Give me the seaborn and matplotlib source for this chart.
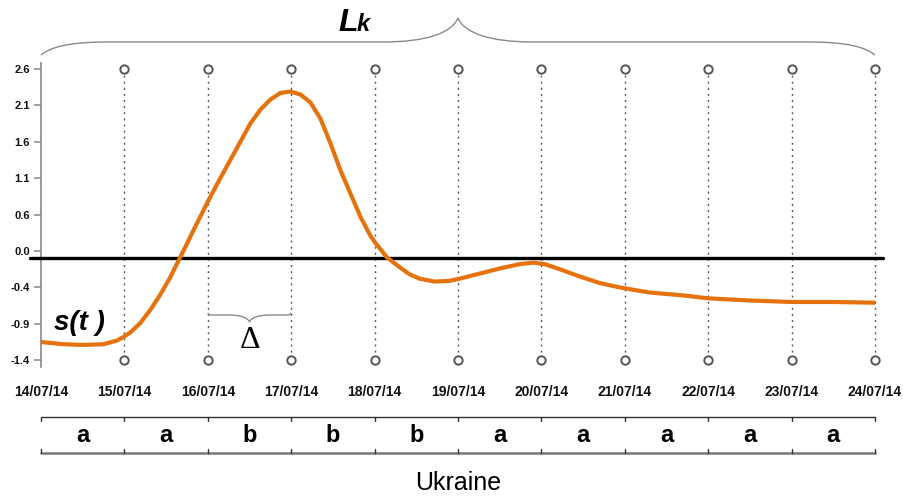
import numpy as np
import pandas as pd
import matplotlib
matplotlib.use("Agg")
import matplotlib.pyplot as plt
import seaborn as sns
from matplotlib.path import Path
from matplotlib.patches import PathPatch
from matplotlib import transforms

# values
dates = ['14/07/14', '15/07/14', '16/07/14', '17/07/14', '18/07/14', '19/07/14',
         '20/07/14', '21/07/14', '22/07/14', '23/07/14', '24/07/14']
days = [0.00, 0.27, 0.51, 0.75, 0.91, 0.99, 1.07, 1.19, 1.31, 1.43, 1.55, 1.65, 1.75,
        1.83, 2.01, 2.15, 2.27, 2.39, 2.51, 2.63, 2.75, 2.87, 2.99, 3.11, 3.23, 3.35,
        3.47, 3.59, 3.71, 3.83, 3.95, 4.01, 4.15, 4.31, 4.42, 4.54, 4.72, 4.90, 5.02,
        5.26, 5.50, 5.74, 5.90, 6.04, 6.22, 6.46, 6.70, 6.94, 7.14, 7.30, 7.70, 8.00,
        8.50, 9.00, 9.50, 10.00]
s_values = [-1.15, -1.18, -1.19, -1.18, -1.13, -1.08, -1.02, -0.89, -0.71, -0.50,
            -0.26, -0.03, 0.20, 0.39, 0.80, 1.10, 1.35, 1.60, 1.85, 2.04, 2.18, 2.27,
            2.29, 2.25, 2.14, 1.92, 1.58, 1.21, 0.89, 0.57, 0.31, 0.21, 0.01, -0.13,
            -0.22, -0.28, -0.32, -0.31, -0.28, -0.21, -0.14, -0.08, -0.06, -0.08, -0.15,
            -0.25, -0.34, -0.40, -0.44, -0.47, -0.51, -0.55, -0.58, -0.60, -0.60, -0.61]
y_ticks = [2.6, 2.1, 1.6, 1.1, 0.6, 0.1, -0.4, -0.9, -1.4]
y_tick_labels = ['2.6', '2.1', '1.6', '1.1', '0.6', '0.0', '-0.4', '-0.9', '-1.4']
classes = ['a', 'a', 'b', 'b', 'b', 'a', 'a', 'a', 'a', 'a']
country = 'Ukraine'

orange = '#E6720E'
gray = '#555555'

sns.set_theme(style='white')
plt.rcParams['font.family'] = ['Liberation Sans', 'DejaVu Sans']
plt.rcParams['text.color'] = 'black'

W, H = 904, 497
fig = plt.figure(figsize=(W / 100, H / 100), dpi=100)
ax = fig.add_axes([41 / W, 1 - 367 / H, 834 / W, 304 / H])

# dotted guides + hollow circles at each day
cols = list(range(1, len(dates)))
for d in cols:
    ax.plot([d, d], [y_ticks[0], y_ticks[-1]], color=gray, lw=1.0,
            linestyle=(0, (1.4, 3.0)), zorder=1, clip_on=False)
circ = pd.DataFrame({'day': cols * 2,
                     'y': [y_ticks[0]] * len(cols) + [y_ticks[-1]] * len(cols)})
sns.scatterplot(data=circ, x='day', y='y', ax=ax, s=36, facecolor='white',
                edgecolor=gray, linewidth=1.4, zorder=6, clip_on=False)

# zero line
ax.plot([-0.13, 10.1], [0, 0], color='black', lw=2.4, zorder=3, clip_on=False)

df = pd.DataFrame({'day': days, 's': s_values})
sns.lineplot(data=df, x='day', y='s', ax=ax, color=orange, linewidth=3.0, zorder=4)

ax.set_xlim(0, 10)
ax.set_ylim(-1.493, 2.682)
ax.set_xlabel('')
ax.set_ylabel('')
for sp in ['top', 'right', 'bottom']:
    ax.spines[sp].set_visible(False)
ax.spines['left'].set_color('#888888')
ax.spines['left'].set_linewidth(1.2)
ax.set_xticks(range(len(dates)), dates, fontsize=10, fontweight='bold')
ax.set_yticks(y_ticks, y_tick_labels, fontsize=8, fontweight='bold')
ax.tick_params(axis='x', length=0, pad=13, labelcolor='#111111')
ax.tick_params(axis='y', left=True, length=5, width=1.1, color='#888888',
               pad=3, labelcolor='#111111')


def brace(x0, x1, yb, ym, yt, end_w, tip_w):
    # x in data units, y in figure pixels from the top
    fy = lambda p: 1 - p / H
    xm = (x0 + x1) / 2
    verts = [(x0, fy(yb)),
             (x0 + 0.15 * end_w, fy(yb + 0.6 * (ym - yb))), (x0 + 0.4 * end_w, fy(ym)), (x0 + end_w, fy(ym)),
             (xm - tip_w, fy(ym)),
             (xm - 0.4 * tip_w, fy(ym)), (xm - 0.08 * tip_w, fy(ym + 0.4 * (yt - ym))), (xm, fy(yt)),
             (xm + 0.08 * tip_w, fy(ym + 0.4 * (yt - ym))), (xm + 0.4 * tip_w, fy(ym)), (xm + tip_w, fy(ym)),
             (x1 - end_w, fy(ym)),
             (x1 - 0.4 * end_w, fy(ym)), (x1 - 0.15 * end_w, fy(yb + 0.6 * (ym - yb))), (x1, fy(yb))]
    codes = [Path.MOVETO, Path.CURVE4, Path.CURVE4, Path.CURVE4, Path.LINETO,
             Path.CURVE4, Path.CURVE4, Path.CURVE4, Path.CURVE4, Path.CURVE4, Path.CURVE4,
             Path.LINETO, Path.CURVE4, Path.CURVE4, Path.CURVE4]
    tr = transforms.blended_transform_factory(ax.transData, fig.transFigure)
    fig.patches.append(PathPatch(Path(verts, codes), transform=tr, fill=False,
                                 edgecolor='#8a8a8a', lw=1.0))


brace(0, 10, 55, 42, 18, 0.8, 0.9)
brace(2, 3, 313, 315, 322, 0.05, 0.25)

fig.text(338 / W, 1 - 31 / H, 'L', fontsize=23, fontweight='bold', fontstyle='italic')
fig.text(357 / W, 1 - 31 / H, 'k', fontsize=17, fontweight='bold', fontstyle='italic')
fig.text(54 / W, 1 - 330 / H, 's(t )', fontsize=20, fontweight='bold', fontstyle='italic')
fig.text(250 / W, 1 - 341 / H, '\u0394', fontsize=23, family='Liberation Serif',
         ha='center', va='center')

# class strip under the chart
tax = fig.add_axes([41 / W, 1 - 453 / H, 834 / W, 36 / H])
tax.set_xlim(0, 10)
tax.set_ylim(0, 1)
tax.axis('off')
tax.plot([0, 10], [1, 1], color='#333333', lw=1.0, clip_on=False)
tax.plot([0, 10], [0, 0], color='#777777', lw=1.8, clip_on=False)
for i in range(len(classes) + 1):
    tax.plot([i, i], [1, 0.88], color='#333333', lw=1.0, clip_on=False)
    tax.plot([i, i], [0, 0.12], color='#333333', lw=1.0, clip_on=False)
for i, c in enumerate(classes):
    tax.text(i + 0.5, 0.5, c, fontsize=17, fontweight='bold', ha='center', va='center')

fig.text(458 / W, 1 - 483 / H, country, fontsize=18, ha='center', va='center')

fig.savefig('out.png', dpi=100)
